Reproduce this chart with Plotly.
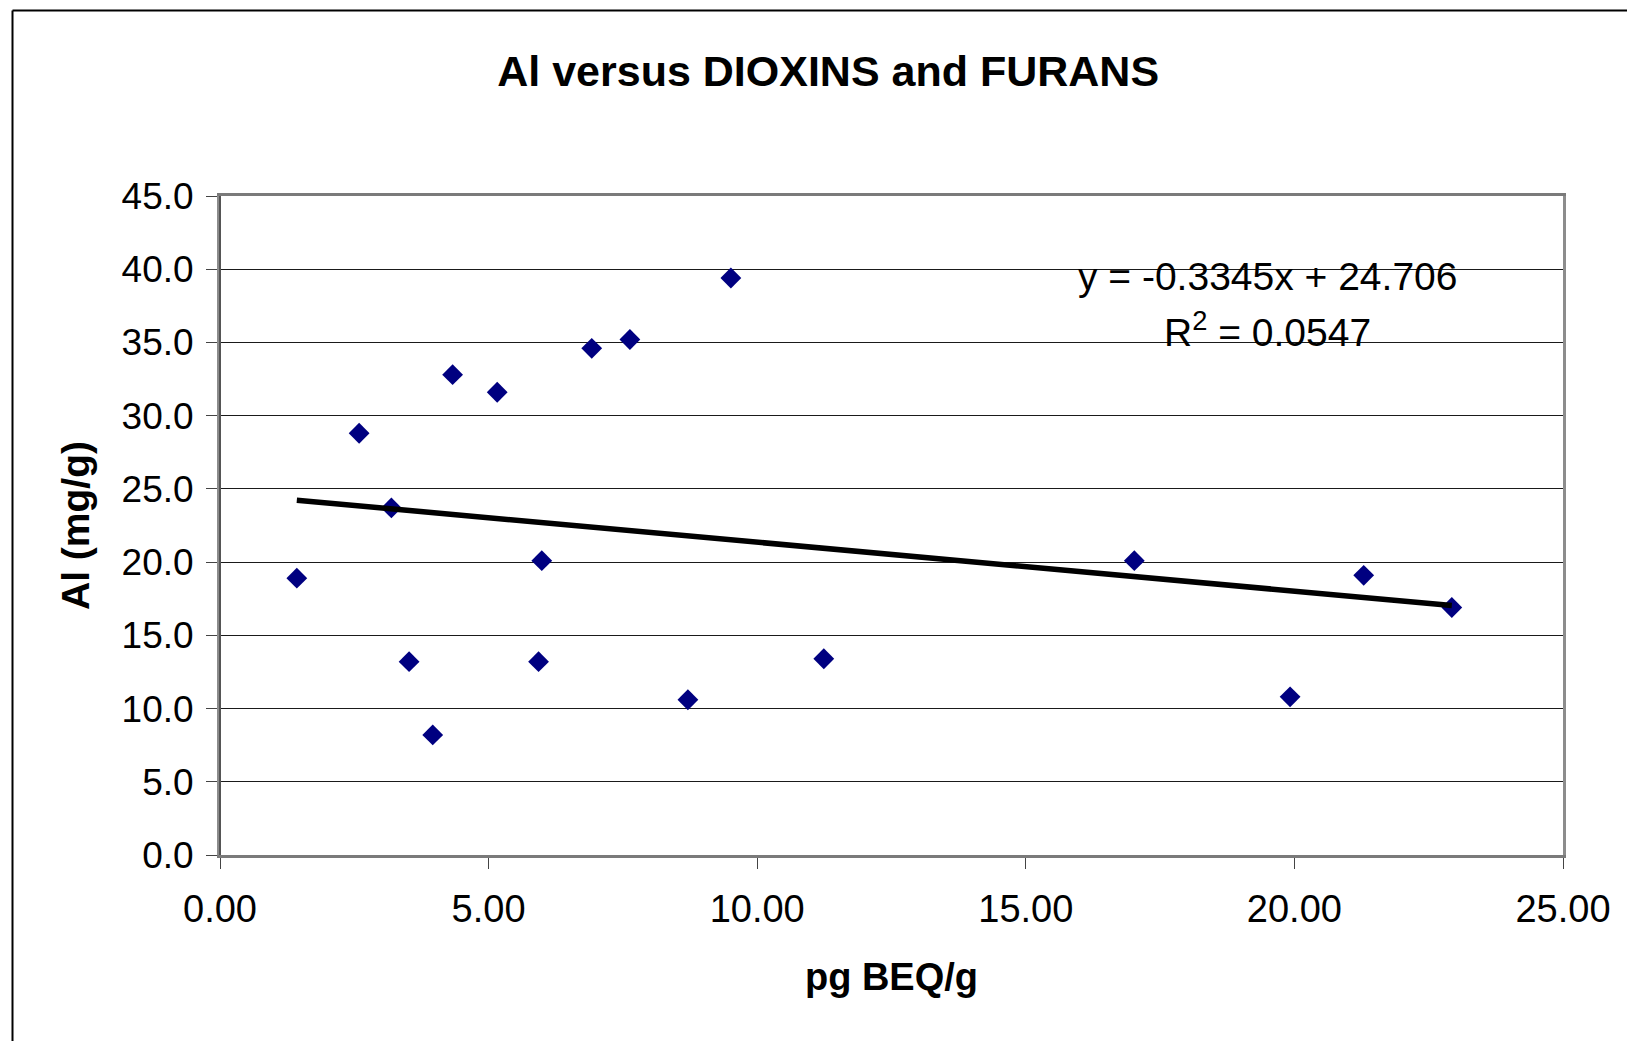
import plotly.graph_objects as go

# Data
pg_beq = [1.43, 2.59, 3.19, 3.52, 3.96, 4.33, 5.16, 5.93, 5.99, 6.92, 7.63, 8.71, 9.51, 11.24, 17.02, 19.92, 21.29, 22.93]
al_mg = [18.9, 28.8, 23.7, 13.2, 8.2, 32.8, 31.6, 13.2, 20.1, 34.6, 35.2, 10.6, 39.4, 13.4, 20.1, 10.8, 19.1, 16.9]

trend_slope = -0.3345
trend_intercept = 24.706
r_squared = 0.0547

x_ticks = [0, 5, 10, 15, 20, 25]
y_ticks = [0, 5, 10, 15, 20, 25, 30, 35, 40, 45]

FONT = "Liberation Sans, Arial, sans-serif"

tx = [min(pg_beq), max(pg_beq)]
ty = [trend_slope * v + trend_intercept for v in tx]

fig = go.Figure()
fig.add_trace(go.Scatter(
    x=pg_beq, y=al_mg, mode="markers",
    marker=dict(symbol="diamond", size=16, color="#000080", line=dict(width=0)),
    showlegend=False, cliponaxis=False,
))
fig.add_trace(go.Scatter(
    x=tx, y=ty, mode="lines",
    line=dict(color="black", width=5.5),
    showlegend=False,
))

fig.update_layout(
    width=1627, height=1041,
    margin=dict(l=220, r=64, t=196, b=186),
    paper_bgcolor="white", plot_bgcolor="white",
    font=dict(family=FONT, color="black", size=37),
    title=dict(text="<b>Al versus DIOXINS and FURANS</b>", x=0.509, xanchor="center",
               y=1 - 70.5 / 1041, yanchor="middle", font=dict(size=43, family=FONT)),
    xaxis=dict(range=[0, 25], tickvals=x_ticks, tickformat=".2f",
               showgrid=False, zeroline=False,
               showline=True, linecolor="#7a7a7a", linewidth=3, mirror=True,
               ticks="outside", ticklen=11, tickcolor="#444", tickwidth=1,
               ticklabelstandoff=7,
               tickfont=dict(size=38),
               title=dict(text="<b>pg BEQ/g</b>", font=dict(size=38), standoff=35)),
    yaxis=dict(range=[0, 45], tickvals=y_ticks, tickformat=".1f",
               showgrid=True, gridcolor="#1a1a1a", gridwidth=1, zeroline=False,
               showline=True, linecolor="#8c8c8c", linewidth=3, mirror=True,
               ticks="outside", ticklen=11, tickcolor="#444", tickwidth=1,
               ticklabelstandoff=5,
               tickfont=dict(size=37),
               title=dict(text="<b>Al (mg/g)</b>", font=dict(size=39), standoff=20)),
)

# darker left axis line as in the reference
fig.add_shape(type="line", xref="paper", yref="paper", x0=0, x1=0, y0=0, y1=1,
              line=dict(color="#555555", width=2))

fig.add_annotation(
    x=(1267 - 220) / 1343, y=39.5, xref="paper", yref="y",
    text=f"y = {trend_slope:.4f}x + {trend_intercept:.3f}",
    showarrow=False, xanchor="center", yanchor="middle", font=dict(size=39, family=FONT),
)
fig.add_annotation(
    x=(1267 - 220) / 1343, y=35.9, xref="paper", yref="y",
    text=f"R<sup>2</sup> = {r_squared:.4f}",
    showarrow=False, xanchor="center", yanchor="middle", font=dict(size=39, family=FONT),
)

# outer chart border: only top and left edges visible in the reference
fig.add_shape(type="line", xref="paper", yref="paper",
              x0=(12.5 - 220) / 1343, x1=(1640 - 220) / 1343,
              y0=(855 - 10.5) / 659, y1=(855 - 10.5) / 659,
              line=dict(color="black", width=2))
fig.add_shape(type="line", xref="paper", yref="paper",
              x0=(12.5 - 220) / 1343, x1=(12.5 - 220) / 1343,
              y0=(855 - 1050) / 659, y1=(855 - 10.5) / 659,
              line=dict(color="black", width=2))

fig.write_html("out.html")
